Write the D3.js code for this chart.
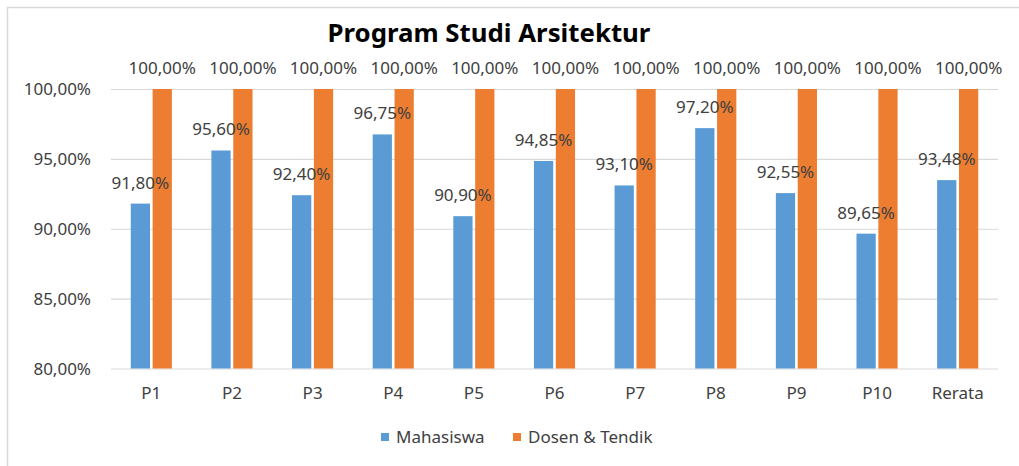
<!DOCTYPE html>
<html>
<head>
<meta charset="utf-8">
<script src="https://cdn.jsdelivr.net/npm/d3@7"></script>
<style>
  html, body { margin: 0; padding: 0; background: #fff; }
  svg text { font-family: "Noto Sans", "Open Sans", sans-serif; }
</style>
</head>
<body>
<div id="main-frame"></div>
<script>
var categories = ["P1", "P2", "P3", "P4", "P5", "P6", "P7", "P8", "P9", "P10", "Rerata"];
var mahasiswa = [91.80, 95.60, 92.40, 96.75, 90.90, 94.85, 93.10, 97.20, 92.55, 89.65, 93.48];
var dosen = [100, 100, 100, 100, 100, 100, 100, 100, 100, 100, 100];
var seriesNames = ["Mahasiswa", "Dosen & Tendik"];
var seriesColors = ["#5B9BD5", "#ED7D31"];
var yTicks = [80, 85, 90, 95, 100];

var width = 1019;
var height = 466;
var textColor = "#404040";

function fmt(v) {
  return v.toFixed(2).replace(".", ",") + "%";
}

var mainSVG = d3.select("#main-frame")
  .append("svg")
  .attr("width", width)
  .attr("height", height);

// chart border
mainSVG.append("rect")
  .attr("x", 7.5)
  .attr("y", 7.5)
  .attr("width", 1100)
  .attr("height", 600)
  .style("fill", "none")
  .style("stroke", "#d9d9d9")
  .style("stroke-width", 1.5);

var x = d3.scaleBand()
  .domain(categories)
  .range([111, 998])
  .paddingInner(0.49)
  .paddingOuter(0.245);

var xInner = d3.scaleBand()
  .domain([0, 1])
  .range([0, x.bandwidth()])
  .paddingInner(0.12);

var y = d3.scaleLinear()
  .domain([80, 100])
  .range([368.5, 89]);

// title
mainSVG.append("text")
  .attr("x", 489)
  .attr("y", 42)
  .attr("text-anchor", "middle")
  .style("font-size", "25.8px")
  .style("font-weight", "bold")
  .style("fill", "#000")
  .text("Program Studi Arsitektur");

// gridlines
var yAxis = d3.axisLeft(y)
  .tickValues(yTicks)
  .tickSize(-(998 - 111))
  .tickPadding(20)
  .tickFormat(fmt);

var gy = mainSVG.append("g")
  .attr("transform", "translate(111,0)")
  .call(yAxis);
gy.select(".domain").remove();
gy.selectAll(".tick line").style("stroke", "#d9d9d9").style("stroke-width", 1.2);
gy.selectAll(".tick text")
  .style("font-size", "17px")
  .style("fill", textColor)
  .attr("dy", "0.35em");

// x axis labels
var xAxis = d3.axisBottom(x).tickSize(0).tickPadding(18);
var gx = mainSVG.append("g")
  .attr("transform", "translate(0," + y(80) + ")")
  .call(xAxis);
gx.select(".domain").remove();
gx.selectAll(".tick text")
  .style("font-size", "17px")
  .style("fill", textColor);

// bars
var seriesData = [mahasiswa, dosen];
seriesData.forEach(function(values, s) {
  mainSVG.append("g").selectAll("rect")
    .data(values)
    .enter()
    .append("rect")
    .attr("x", function(d, i) { return x(categories[i]) + xInner(s); })
    .attr("y", function(d) { return y(d); })
    .attr("width", xInner.bandwidth())
    .attr("height", function(d) { return y(80) - y(d); })
    .style("fill", seriesColors[s]);
});

// data labels (drawn on top of every bar)
seriesData.forEach(function(values, s) {
  mainSVG.append("g").selectAll("text")
    .data(values)
    .enter()
    .append("text")
    .attr("x", function(d, i) { return x(categories[i]) + xInner(s) + xInner.bandwidth() / 2; })
    .attr("y", function(d) { return y(d) - 15; })
    .attr("text-anchor", "middle")
    .style("font-size", "17px")
    .style("fill", textColor)
    .text(fmt);
});

// legend
var legend = mainSVG.append("g");
var legendX = [381, 513];
seriesNames.forEach(function(name, s) {
  legend.append("rect")
    .attr("x", legendX[s])
    .attr("y", 433)
    .attr("width", 8)
    .attr("height", 8)
    .style("fill", seriesColors[s]);
  legend.append("text")
    .attr("x", legendX[s] + 15)
    .attr("y", 443)
    .style("font-size", "17px")
    .style("fill", textColor)
    .text(name);
});
</script>
</body>
</html>
